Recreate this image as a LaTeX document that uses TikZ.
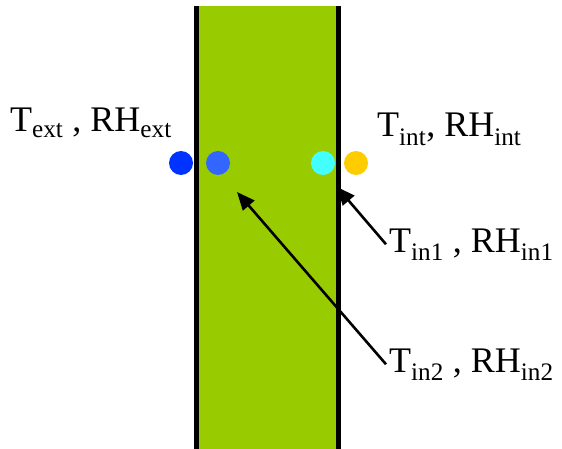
\documentclass[tikz,border=0pt]{standalone}
\usepackage{fontspec}
\setmainfont{Liberation Serif}
\usetikzlibrary{arrows.meta, positioning}

\definecolor{wallgreen}{HTML}{99CC00}
\definecolor{dotext}{HTML}{0033FF}
\definecolor{dotin2}{HTML}{3366FF}
\definecolor{dotin1}{HTML}{44FFFF}
\definecolor{dotint}{HTML}{FFCC00}

\begin{document}
\begin{tikzpicture}[
  x=1pt, y=-1pt,
  font=\fontsize{36}{42}\selectfont,
  arrow/.style={-{Triangle[length=18pt, width=15pt]}, line width=2.6pt},
  edge/.style={line width=5pt},
  sensor/.style={circle, minimum size=24pt, inner sep=0pt},
  lbl/.style={anchor=base west, inner sep=3pt}
]
\useasboundingbox (0,0) rectangle (562,449);

% =========================
% Wall
% =========================
\fill[wallgreen] (196.5,6) rectangle (338.5,449);
\draw[edge] (196.5,6) -- (196.5,449);
\draw[edge] (338.5,6) -- (338.5,449);

% =========================
% Sensors
% =========================
\node[sensor, fill=dotext] (sext) at (181,163) {};
\node[sensor, fill=dotin2] (sin2) at (218,163) {};
\node[sensor, fill=dotin1] (sin1) at (323,163) {};
\node[sensor, fill=dotint] (sint) at (356,163) {};

% =========================
% Labels
% =========================
\node[lbl] (lext) at (7,132) {T\textsubscript{ext} , RH\textsubscript{ext}};
\node[lbl] (lint) at (374,137) {T\textsubscript{int}, RH\textsubscript{int}};
\node[lbl] (lin1) at (386,252) {T\textsubscript{in1} , RH\textsubscript{in1}};
\node[lbl] (lin2) at (386,372) {T\textsubscript{in2} , RH\textsubscript{in2}};

% =========================
% Pointers
% =========================
\coordinate (pin1) at (337,187);
\coordinate (pin2) at (237,192);
\draw[arrow] (lin1.west) -- (pin1);
\draw[arrow] (lin2.west) -- (pin2);

\end{tikzpicture}
\end{document}
